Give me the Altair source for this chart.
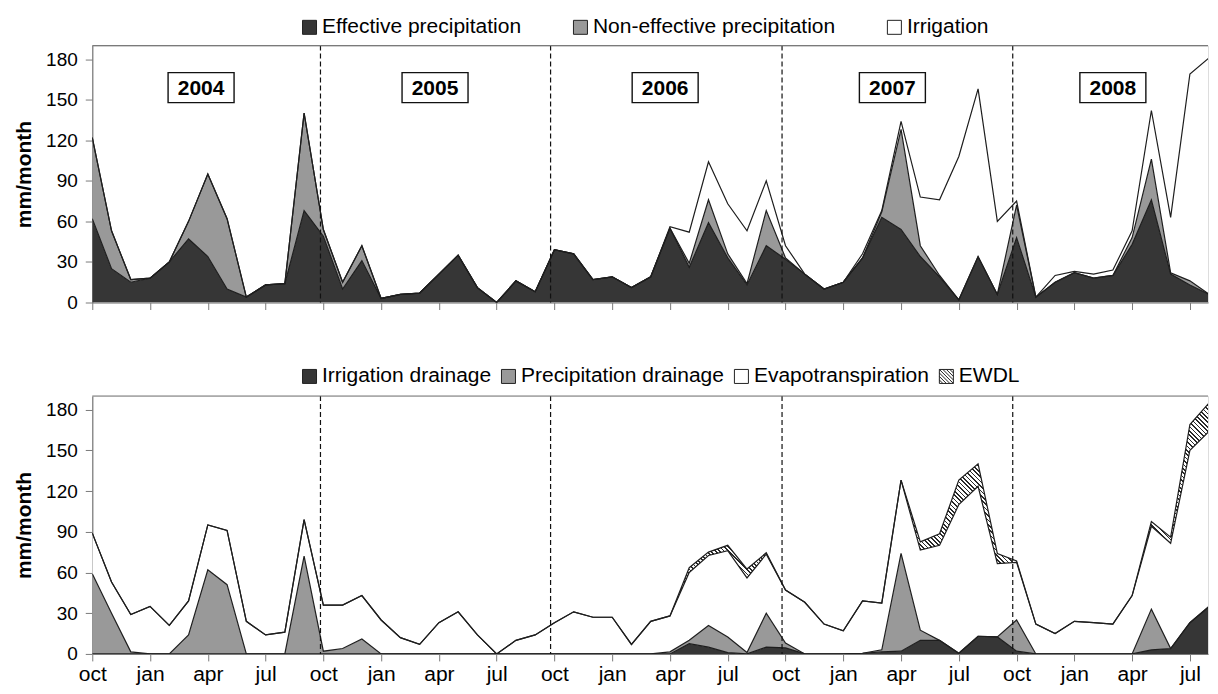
import altair as alt
import pandas as pd

# ---------------- data (month index 0 = Oct 2003 ... 59 = Sep 2008) ----------------
month_idx = list(range(60))
month_names = ["oct", "jan", "apr", "jul"]
tick_months = list(range(0, 58, 3))

top_series = ["Effective precipitation", "Non-effective precipitation", "Irrigation"]
eff_precip = [62, 25, 15, 18, 30, 47, 34, 10, 4, 13, 14, 68, 49, 10, 31, 3, 6, 7, 21, 35,
              11, 0, 16, 8, 39, 36, 17, 19, 11, 19, 55, 26, 59, 33, 13, 42, 32, 21, 10, 15,
              33, 63, 54, 34, 19, 2, 34, 6, 48, 4, 15, 22, 18, 20, 43, 76, 21, 13, 6, 28]
noneff_precip = [60, 28, 2, 0, 0, 13, 61, 52, 0, 0, 0, 72, 5, 5, 11, 0, 0, 0, 0, 0,
                 0, 0, 0, 0, 0, 0, 0, 0, 0, 0, 0, 3, 17, 3, 1, 26, 1, 0, 0, 0,
                 0, 4, 74, 8, 1, 0, 0, 0, 24, 0, 0, 0, 0, 0, 5, 30, 1, 3, 0, 0]
irrigation = [0, 0, 0, 0, 0, 0, 0, 0, 0, 0, 0, 0, 0, 0, 0, 0, 0, 0, 0, 0,
              0, 0, 0, 0, 0, 0, 0, 0, 0, 0, 1, 23, 28, 37, 39, 22, 9, 0, 0, 0,
              3, 1, 6, 36, 56, 106, 124, 54, 3, 0, 5, 1, 3, 4, 5, 36, 41, 153, 175, 60]

bot_series = ["Irrigation drainage", "Precipitation drainage", "Evapotranspiration", "EWDL"]
irr_drain = [0, 0, 0, 0, 0, 0, 0, 0, 0, 0, 0, 0, 0, 0, 0, 0, 0, 0, 0, 0,
             0, 0, 0, 0, 0, 0, 0, 0, 0, 0, 0, 7.5, 5, 1, 0, 5, 4.5, 0, 0, 0,
             0.5, 1.5, 2, 10, 10, 0.5, 13, 12.5, 2, 0, 0, 0, 0, 0, 0, 3, 4, 23, 35, 37]
prec_drain = [59, 30, 1.5, 0, 0, 14, 62, 51, 0, 0, 0, 72, 2, 4, 11, 0, 0, 0, 0, 0,
              0, 0, 0, 0, 0, 0, 0, 0, 0, 0, 1.5, 2.5, 16, 11.5, 1, 25, 3.5, 0, 0, 0,
              0, 1.5, 72, 7.5, 0, 0, 0, 0, 23, 0, 0, 0, 0, 0, 0, 30, 0, 0, 0, 0]
evapotransp = [30, 23, 27.5, 35, 21, 25, 33, 40, 24, 14, 16, 27, 34, 32, 32, 25, 12, 7, 23, 31,
               14, 0, 10, 14, 23, 31, 27, 27, 7, 24, 26.5, 50, 51.5, 63.5, 55, 43.5, 39, 38, 22, 17,
               38.5, 34.5, 54, 59, 70, 109.5, 110.5, 54, 42.5, 22, 15, 24, 23, 22, 43, 61, 77.5, 127, 129, 75]
ewdl = [0, 0, 0, 0, 0, 0, 0, 0, 0, 0, 0, 0, 0, 0, 0, 0, 0, 0, 0, 0,
        0, 0, 0, 0, 0, 0, 0, 0, 0, 0, 0, 3.5, 2.5, 4, 6.5, 1, 0, 0, 0, 0,
        0, 0, 0, 6, 8.5, 18, 16.5, 7.5, 1, 0, 0, 0, 0, 0, 0, 3.5, 4.5, 19, 21, 10]

year_labels = ["2004", "2005", "2006", "2007", "2008"]
year_label_pos = [5.65, 17.8, 29.75, 41.55, 53.0]
year_label_y = 158.9
year_breaks = [11.85, 23.8, 35.82, 47.8]

# ---------------- layout constants ----------------
FONT = "Liberation Sans"
PLOT_W = 1116
XMAX = 57.94
TOP_H = 257
BOT_H = 258
YMAX = 190
AXIS_GRAY = "#7a7a7a"
LINE_COL = "#1e1e1e"


def stacked(names, arrays):
    rows = []
    lower = [0.0] * len(month_idx)
    for k, (name, arr) in enumerate(zip(names, arrays)):
        for i in month_idx:
            rows.append({"i": i, "series": name, "ord": k,
                         "lower": lower[i], "upper": lower[i] + arr[i]})
        lower = [lower[i] + arr[i] for i in month_idx]
    return pd.DataFrame(rows)


top_df = stacked(top_series, [eff_precip, noneff_precip, irrigation])
bot_df = stacked(bot_series, [irr_drain, prec_drain, evapotransp, ewdl])

label_expr = "[" + ",".join("'%s'" % m for m in month_names) + "][floor(datum.value / 3) % 4]"


def x_enc(show_labels):
    return alt.X("i:Q", scale=alt.Scale(domain=[0, XMAX], nice=False, zero=False),
                 axis=alt.Axis(values=tick_months, labels=show_labels, labelExpr=label_expr,
                               title=None, grid=False, tickSize=7, labelPadding=3,
                               labelFontSize=21, labelFont=FONT, labelColor="black",
                               labelFlush=False, labelOverlap=False,
                               domainColor=AXIS_GRAY, tickColor=AXIS_GRAY, domainWidth=1.2))


def y_enc(field):
    return alt.Y(field, stack=None, scale=alt.Scale(domain=[0, YMAX], nice=False),
                 axis=alt.Axis(values=list(range(0, 181, 30)), title="mm/month", grid=False,
                               tickSize=7, labelPadding=8, labelFontSize=19, labelFont=FONT,
                               labelColor="black", titleFont=FONT, titleFontSize=21,
                               titleFontWeight="bold", titleColor="black", titlePadding=11,
                               domainColor=AXIS_GRAY, tickColor=AXIS_GRAY, domainWidth=1.2,
                               labelFlush=False))


def legend(x, y, pad, ewdl_shape=False):
    kw = dict(orient="none", legendX=x, legendY=y, direction="horizontal", title=None,
              symbolType="square", symbolSize=196, symbolStrokeColor="#222222",
              symbolStrokeWidth=1, labelFont=FONT, labelFontSize=21, labelColor="black",
              labelOffset=2, columnPadding=pad, padding=0, labelLimit=400)
    if ewdl_shape:
        hatch = ("M-1,-1H1V1H-1Z M-1,-1L1,1 M-1,-0.5L0.5,1 M-1,0L0,1 M-1,0.5L-0.5,1 "
                 "M-0.5,-1L1,0.5 M0,-1L1,0 M0.5,-1L1,-0.5")
        kw["symbolType"] = alt.ExprRef(
            expr="datum.value === 'EWDL' ? '%s' : 'square'" % hatch)
    return alt.Legend(**kw)


def panel(df, names, colors, height, show_labels, leg, hatch_series=None):
    area_df = df if hatch_series is None else df[df.series != hatch_series]
    areas = alt.Chart(area_df).mark_area(clip=True, opacity=1, interpolate="linear").encode(
        x=x_enc(show_labels),
        y=y_enc("upper:Q"),
        y2="lower:Q",
        color=alt.Color("series:N", scale=alt.Scale(domain=names, range=colors), legend=leg),
        detail="series:N",
    )
    layers = [areas]
    if hatch_series is not None:
        # diagonal hatch drawn as a striped gradient
        px = PLOT_W / XMAX
        sub = df[df.series == hatch_series]
        W = (max(month_idx) - min(month_idx)) * px
        top_px = height * (1 - sub.upper.max() / YMAX)
        bot_px = height * (1 - sub.lower.min() / YMAX)
        H = bot_px - top_px
        r = H / W
        k = (1 + r) / (1 + r * r)
        n = int(round(W * (1 + r) / 4.4))
        stops = []
        for j in range(n):
            a, b, c = j / n, (j + 0.62) / n, (j + 1) / n
            stops += [alt.GradientStop(color="white", offset=a),
                      alt.GradientStop(color="white", offset=b),
                      alt.GradientStop(color="#2a2a2a", offset=b),
                      alt.GradientStop(color="#2a2a2a", offset=c)]
        grad = alt.LinearGradient(gradient="linear", stops=stops, x1=0, y1=1, x2=k, y2=1 - k * r)
        hatch = alt.Chart(sub).mark_area(clip=True, opacity=1, fill=grad).encode(
            x=x_enc(show_labels), y=y_enc("upper:Q"), y2="lower:Q")
        layers.append(hatch)
    lines = alt.Chart(df).mark_line(clip=True, strokeWidth=1.2, color=LINE_COL).encode(
        x=x_enc(show_labels), y=y_enc("upper:Q"), detail="series:N",
        order="i:Q")
    layers.append(lines)
    breaks = alt.Chart(pd.DataFrame({"b": year_breaks})).mark_rule(
        color="#111111", strokeWidth=1.2, strokeDash=[5, 3]).encode(x=alt.X("b:Q"))
    border = alt.Chart(pd.DataFrame({"t": [YMAX]})).mark_rule(
        color=AXIS_GRAY, strokeWidth=1.2).encode(y=alt.Y("t:Q"))
    layers += [breaks, border]
    return alt.layer(*layers).properties(width=PLOT_W, height=height)


top = panel(top_df, top_series, ["#363636", "#999999", "#ffffff"], TOP_H, False,
            legend(206.8, -29, 48))

years_df = pd.DataFrame({"pos": year_label_pos, "label": year_labels})
boxes = alt.Chart(years_df).mark_point(
    shape="M-1,-0.455H1V0.455H-1Z", size=4356, filled=True, fill="white",
    stroke="#111111", strokeWidth=1.4, opacity=1).encode(
    x=alt.X("pos:Q"), y=alt.datum(year_label_y))
box_text = alt.Chart(years_df).mark_text(
    font=FONT, fontSize=21, fontWeight="bold", color="black",
    align="center", baseline="middle", dy=1).encode(
    x=alt.X("pos:Q"), y=alt.datum(year_label_y), text="label:N")
top = alt.layer(top, boxes, box_text)

bottom = panel(bot_df, bot_series, ["#363636", "#999999", "#ffffff", "#ffffff"], BOT_H, True,
               legend(206.8, -30.3, 6, ewdl_shape=True), hatch_series="EWDL")

chart = alt.vconcat(top, bottom, spacing=51.5).resolve_scale(
    color="independent").resolve_legend(color="independent").properties(
    padding={"left": 4.3, "top": 7.5, "right": 0, "bottom": 0}
).configure_view(stroke=None).configure(background="white")

chart.save("out.html", embed_options={"renderer": "svg", "actions": False})
